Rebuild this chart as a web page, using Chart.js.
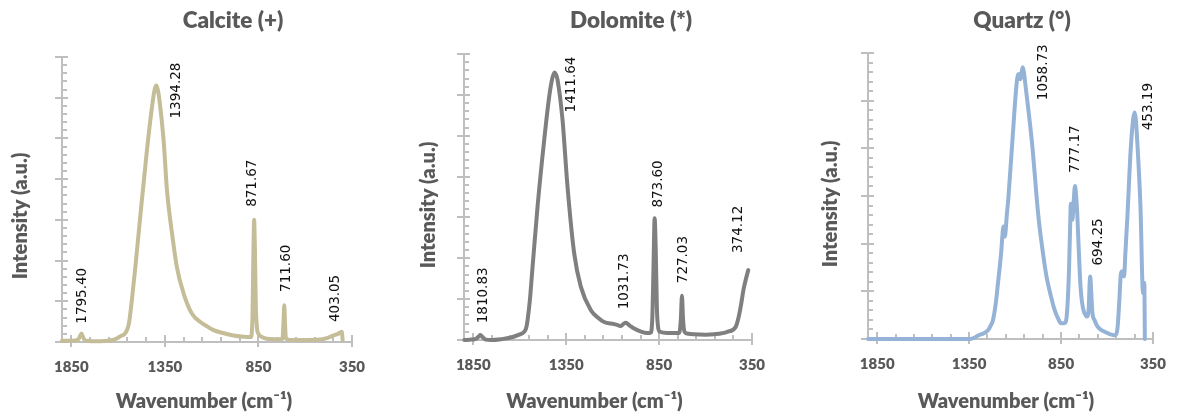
<!DOCTYPE html>
<html><head><meta charset="utf-8">
<script src="https://cdn.jsdelivr.net/npm/chart.js@4.4.0/dist/chart.umd.min.js"></script>
<style>
html,body{margin:0;padding:0;background:#fff;overflow:hidden}
#wrap{position:relative;width:1182px;height:416px;overflow:hidden}
.pane{position:absolute;left:0;top:0;width:1182px;height:416px}
</style></head><body>
<div id="wrap">
<div class="pane"><canvas id="c1"></canvas></div>
<div class="pane"><canvas id="c2"></canvas></div>
<div class="pane"><canvas id="c3"></canvas></div>
</div>
<script>
// ---- data ----
const xTickValues = [1850, 1350, 850, 350];

const calciteWavenumber = [1900,1860,1829,1812,1800,1796,1790,1778,1740,1695,1642,1610,1588,1565,1556,1545,1539,1525,1508,1482,1446,1419,1405,1396,1388,1379,1357,1339,1312,1286,1250,1206,1161,1130,1090,1040,984,930,891,882,877,873,869,864,858,850,830,805,760,722,716,712,708,703,680,628,521,480,450,425,405,400];
const calciteIntensity  = [0.03,0.03,0.04,0.07,0.18,0.21,0.15,0.04,0.02,0.02,0.04,0.08,0.14,0.20,0.26,0.40,0.55,1.10,1.84,3.07,4.71,5.77,6.20,6.30,6.20,5.94,4.96,3.73,2.67,1.84,1.19,0.70,0.49,0.40,0.29,0.22,0.16,0.13,0.12,0.60,2.20,3.00,2.30,0.90,0.35,0.20,0.12,0.08,0.07,0.07,0.50,0.90,0.45,0.08,0.05,0.05,0.06,0.10,0.16,0.20,0.25,0.05];

const dolomiteWavenumber = [1898,1860,1835,1820,1812,1800,1782,1755,1700,1647,1610,1576,1565,1558,1545,1531,1504,1468,1441,1425,1413,1405,1397,1370,1343,1307,1271,1217,1180,1146,1092,1070,1056,1040,1029,1010,984,950,913,895,886,880,874,868,862,855,845,805,742,733,727,721,713,700,662,600,554,483,438,425,411,395,384,370];
const dolomiteIntensity  = [0.00,0.01,0.03,0.09,0.12,0.07,0.01,0.00,0.02,0.06,0.12,0.20,0.30,0.48,1.00,1.79,3.27,4.91,5.97,6.40,6.55,6.50,6.38,5.40,3.76,2.12,1.30,0.73,0.55,0.44,0.39,0.36,0.34,0.40,0.42,0.36,0.28,0.21,0.17,0.18,0.60,1.80,2.98,2.20,0.80,0.30,0.20,0.17,0.17,0.50,1.08,0.50,0.20,0.16,0.14,0.13,0.14,0.20,0.32,0.50,0.81,1.25,1.47,1.71];

const quartzWavenumber = [1900,1500,1400,1343,1320,1299,1270,1246,1230,1220,1205,1193,1176,1166,1163,1157,1153,1145,1137,1114,1091,1083,1079,1070,1064,1058,1052,1043,1008,973,950,929,905,885,865,850,835,824,815,806,799,797,792,788,781,774,768,762,755,744,735,726,716,709,700,694,691,686,679,668,656,635,612,585,560,550,542,533,524,515,507,500,489,471,458,450,443,436,418,404,397,394];
const quartzIntensity  = [0,0,0,0,0.03,0.08,0.12,0.19,0.30,0.40,0.75,1.17,1.80,2.30,2.36,2.15,2.20,2.60,2.93,4.19,5.38,5.55,5.56,5.45,5.60,5.70,5.60,5.31,4.12,2.57,1.85,1.31,0.90,0.61,0.42,0.33,0.33,0.36,0.70,1.52,2.60,2.84,2.60,2.50,2.90,3.21,3.00,2.65,2.00,1.10,0.75,0.58,0.50,0.47,0.60,1.20,1.31,1.00,0.54,0.40,0.29,0.20,0.15,0.10,0.08,0.10,0.26,0.80,1.38,1.42,1.31,1.80,2.57,3.98,4.60,4.75,4.60,4.19,2.79,0.96,1.18,0];

// peak annotations: text and anchor (wavenumber, intensity) of the start of the label
const calcitePeakText = ['1795.40','1394.28','871.67','711.60','403.05'];
const calcitePeakAtX  = [1790,1287,880,702,439];
const calcitePeakAtY  = [0.45,5.49,3.32,1.23,0.49];

const dolomitePeakText = ['1810.83','1411.64','1031.73','873.60','727.03','374.12'];
const dolomitePeakAtX  = [1796,1323,1038,855,716,425];
const dolomitePeakAtY  = [0.41,5.57,0.75,3.24,1.39,2.13];

const quartzPeakText = ['1058.73','777.17','694.25','453.19'];
const quartzPeakAtX  = [947,772,646,376];
const quartzPeakAtY  = [5.01,3.49,1.54,4.38];

// ---- rendering ----
const GRAY_TEXT = '#595959';
const AXIS = '#BFBFBF';
const TITLE_FONT = '800 22.5px Lato, "DejaVu Sans", sans-serif';
const AXTITLE_FONT = '800 20px Lato, "DejaVu Sans", sans-serif';
const PEAK_FONT = '13.5px "DejaVu Sans", sans-serif';

const panels = [
  { id:'c1', title:'Calcite (+)', x:calciteWavenumber, y:calciteIntensity, color:'#C4BD97', ymax:7,
    peaks:{text:calcitePeakText, x:calcitePeakAtX, y:calcitePeakAtY},
    area:{left:62,right:352,top:57,bottom:342},
    titlePos:[233,27.5], xTitlePos:[204,408], yTitlePos:[27,216] },
  { id:'c2', title:'Dolomite (*)', x:dolomiteWavenumber, y:dolomiteIntensity, color:'#7F7F7F', ymax:7,
    peaks:{text:dolomitePeakText, x:dolomitePeakAtX, y:dolomitePeakAtY},
    area:{left:464,right:752,top:54,bottom:340},
    titlePos:[631,27.5], xTitlePos:[594.5,408], yTitlePos:[434.5,205] },
  { id:'c3', title:'Quartz (°)', x:quartzWavenumber, y:quartzIntensity, color:'#95B3D7', ymax:6,
    peaks:{text:quartzPeakText, x:quartzPeakAtX, y:quartzPeakAtY},
    area:{left:868,right:1161,top:53,bottom:339},
    titlePos:[1022,27.5], xTitlePos:[1006,408], yTitlePos:[837,204] }
];

function decor(p) {
  return {
    id: 'decor',
    beforeDatasetsDraw(chart) {
      const {ctx, chartArea:a, scales:{x, y}} = chart;
      ctx.save();
      ctx.strokeStyle = AXIS; ctx.lineWidth = 2;
      ctx.beginPath();
      for (let i = 0; i <= p.ymax * 5; i++) {
        const py = Math.round(y.getPixelForValue(i / 5));
        if (i % 5 === 0) { ctx.moveTo(a.left - 7, py); ctx.lineTo(a.left + 6, py); }
        else { ctx.moveTo(a.left, py); ctx.lineTo(a.left + 5, py); }
      }
      for (let v = 350; v <= 1850; v += 100) {
        const px = Math.round(x.getPixelForValue(v));
        if ((v - 350) % 500 === 0) { ctx.moveTo(px, a.bottom - 7); ctx.lineTo(px, a.bottom + 5); }
        else { ctx.moveTo(px, a.bottom); ctx.lineTo(px, a.bottom - 5); }
      }
      ctx.stroke();
      ctx.restore();
    },
    afterDraw(chart) {
      const {ctx, scales:{x, y}} = chart;
      ctx.save();
      ctx.fillStyle = GRAY_TEXT;
      ctx.textAlign = 'center'; ctx.textBaseline = 'alphabetic';
      ctx.font = TITLE_FONT;
      ctx.fillText(p.title, p.titlePos[0], p.titlePos[1]);
      ctx.font = AXTITLE_FONT;
      ctx.fillText('Wavenumber (cm\u207B\u00B9)', p.xTitlePos[0], p.xTitlePos[1]);
      ctx.save();
      ctx.translate(p.yTitlePos[0], p.yTitlePos[1]);
      ctx.rotate(-Math.PI / 2);
      ctx.fillText('Intensity (a.u.)', 0, 0);
      ctx.restore();
      ctx.fillStyle = '#111111';
      ctx.font = PEAK_FONT;
      ctx.textAlign = 'left'; ctx.textBaseline = 'middle';
      p.peaks.text.forEach((t, i) => {
        const px = x.getPixelForValue(p.peaks.x[i]);
        const py = y.getPixelForValue(p.peaks.y[i]);
        ctx.save();
        ctx.translate(px, py);
        ctx.rotate(-Math.PI / 2);
        ctx.fillText(t, 0, 0);
        ctx.restore();
      });
      ctx.restore();
    }
  };
}

panels.forEach(p => {
  new Chart(document.getElementById(p.id), {
    type: 'line',
    data: {
      datasets: [{
        data: p.x.map((v, i) => ({x: v, y: p.y[i]})),
        borderColor: p.color,
        borderWidth: 4,
        pointRadius: 0,
        fill: false,
        cubicInterpolationMode: 'monotone',
        borderJoinStyle: 'round',
        borderCapStyle: 'round',
        clip: false
      }]
    },
    options: {
      responsive: true,
      maintainAspectRatio: false,
      animation: false,
      events: [],
      layout: { padding: { left: p.area.left - 10, right: 1182 - p.area.right, top: p.area.top, bottom: 0 } },
      plugins: { legend: {display:false}, tooltip: {enabled:false}, title: {display:false} },
      scales: {
        x: {
          type: 'linear', reverse: true, min: 350, max: 1900,
          afterBuildTicks: s => { s.ticks = xTickValues.map(v => ({value: v})); },
          afterFit: s => { s.height = 416 - p.area.bottom; },
          grid: { display: true, drawOnChartArea: false, drawTicks: false },
          border: { display: true, color: AXIS, width: 2 },
          ticks: { padding: 16, color: GRAY_TEXT, autoSkip: false, maxRotation: 0,
                   font: { family: 'Lato', weight: 800, size: 15 },
                   callback: v => String(v) }
        },
        y: {
          type: 'linear', min: 0, max: p.ymax,
          afterBuildTicks: s => { const t = []; for (let i = 0; i <= p.ymax; i++) t.push({value: i}); s.ticks = t; },
          afterFit: s => { s.width = 10; },
          grid: { display: true, drawOnChartArea: false, drawTicks: false },
          border: { display: true, color: AXIS, width: 2 },
          ticks: { display: false }
        }
      }
    },
    plugins: [decor(p)]
  });
});
</script>
</body></html>
